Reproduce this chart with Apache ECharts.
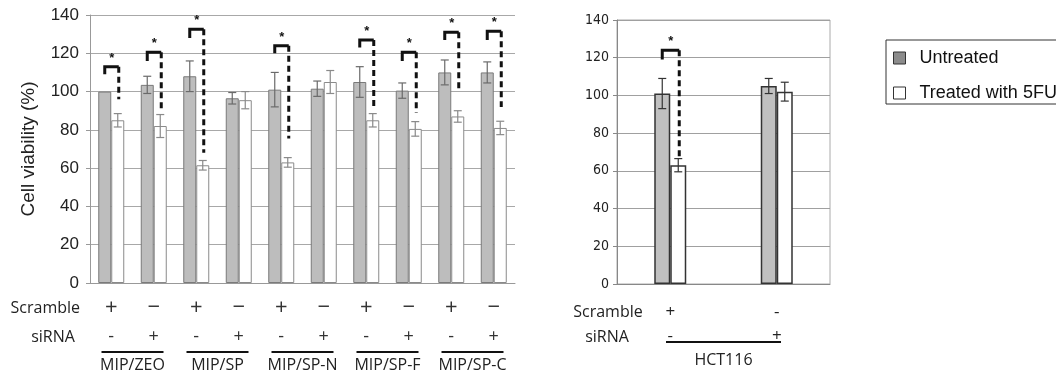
<!DOCTYPE html>
<html>
<head>
<meta charset="utf-8">
<script src="https://cdn.jsdelivr.net/npm/echarts@6/dist/echarts.min.js"></script>
<style>
  html, body { margin: 0; background: #fff; }
  #chart { width: 1056px; height: 377px; }
</style>
</head>
<body>
<div id="chart"></div>
<script>
// left panel: 5 cell lines x 2 conditions (scramble / siRNA)
const groupsLeft = ['MIP/ZEO', 'MIP/SP', 'MIP/SP-N', 'MIP/SP-F', 'MIP/SP-C'];
const scrambleLeft = ['+', '−', '+', '−', '+', '−', '+', '−', '+', '−'];
const sirnaLeft = ['-', '+', '-', '+', '-', '+', '-', '+', '-', '+'];
const untreatedLeft = [100, 103.5, 108, 96.5, 101, 101.5, 105, 100.5, 110, 110];
const untreatedLeftErr = [0, 4.5, 8, 3, 9, 4, 8, 4, 6.5, 5.5];
const treatedLeft = [85, 82, 61.5, 95.5, 63, 105, 85, 80.5, 87, 81];
const treatedLeftErr = [3.5, 6, 2.5, 4.5, 2.5, 6, 3.5, 3.8, 3, 3.5];
// significance brackets: [category index, bracket top, left leg end, dashed leg end]
const bracketsLeft = [
  [0, 113, 109, 96],
  [1, 120.5, 116, 90.5],
  [2, 132.5, 128, 68],
  [4, 124, 120, 75.5],
  [6, 127, 123, 90.5],
  [7, 120.5, 116, 89],
  [8, 131, 127, 100],
  [9, 131.5, 127, 92]
];

// right panel: HCT116
const groupsRight = ['HCT116'];
const scrambleRight = ['+', '-'];
const sirnaRight = ['-', '+'];
const untreatedRight = [101, 105];
const untreatedRightErr = [8, 4];
const treatedRight = [63, 102];
const treatedRightErr = [3.5, 5];
const bracketsRight = [[0, 124, 119, 67]];

const yMin = 0, yMax = 140, yStep = 20;

const BW_L = 13, BW_R = 16;
const chart = echarts.init(document.getElementById('chart'));

function errorSeries(xi, yi, vals, errs, side, bw, color, cap) {
  return {
    type: 'custom', xAxisIndex: xi, yAxisIndex: yi, z: 5, silent: true, clip: false,
    data: vals.map((v, i) => [i, v, errs[i]]),
    renderItem(params, api) {
      const i = api.value(0), v = api.value(1), e = api.value(2);
      if (!e) return;
      const hi = api.coord([i, v + e]), lo = api.coord([i, v - e]);
      const x = hi[0] + side * bw / 2;
      const st = { stroke: color, lineWidth: 1.2 };
      return {
        type: 'group', children: [
          { type: 'line', shape: { x1: x, y1: hi[1], x2: x, y2: lo[1] }, style: st },
          { type: 'line', shape: { x1: x - cap, y1: hi[1], x2: x + cap, y2: hi[1] }, style: st },
          { type: 'line', shape: { x1: x - cap, y1: lo[1], x2: x + cap, y2: lo[1] }, style: st }
        ]
      };
    }
  };
}

function bracketSeries(xi, yi, data, bw) {
  return {
    type: 'custom', xAxisIndex: xi, yAxisIndex: yi, z: 6, silent: true, clip: false,
    data: data,
    renderItem(params, api) {
      const i = api.value(0);
      const t = api.coord([i, api.value(1)]);
      const l = api.coord([i, api.value(2)]);
      const r = api.coord([i, api.value(3)]);
      const xL = t[0] - bw / 2, xR = t[0] + bw / 2 + 1;
      return {
        type: 'group', children: [
          { type: 'polyline', shape: { points: [[xL, l[1]], [xL, t[1]], [xR, t[1]]] },
            style: { stroke: '#111', lineWidth: 3, fill: null } },
          { type: 'line', shape: { x1: xR, y1: t[1], x2: xR, y2: r[1] },
            style: { stroke: '#111', lineWidth: 3, lineDash: [6, 4] } },
          { type: 'text', x: (xL + xR) / 2, y: t[1] - 2,
            style: { text: '*', fill: '#111', font: 'bold 13px "Liberation Sans"', align: 'center', verticalAlign: 'bottom' } }
        ]
      };
    }
  };
}

function underlineSeries(xi, yi, groups, w, dy) {
  return {
    type: 'custom', xAxisIndex: xi, yAxisIndex: yi, z: 6, silent: true, clip: false,
    data: groups.map((g, k) => [k, 0]),
    renderItem(params, api) {
      const c = api.coord([api.value(0), 0]);
      return { type: 'line', shape: { x1: c[0] - w / 2, y1: c[1] + dy, x2: c[0] + w / 2, y2: c[1] + dy },
        style: { stroke: '#111', lineWidth: 2 } };
    }
  };
}

const signFont = { fontFamily: '"Open Sans"', color: '#222' };

chart.setOption({
  animation: false,
  backgroundColor: '#fff',
  grid: [
    { left: 90, top: 15, width: 425, height: 268 },
    { left: 617, top: 20, width: 213, height: 264, show: true, borderColor: '#aaa', borderWidth: 1, backgroundColor: 'transparent' }
  ],
  legend: {
    orient: 'vertical', left: 886, top: 40,
    padding: [9, 60, 2, 7], itemGap: 17, itemWidth: 12, itemHeight: 12,
    borderColor: '#333', borderWidth: 1,
    textStyle: { fontFamily: '"Liberation Sans"', fontSize: 18, color: '#111', padding: [0, 0, 0, 9] },
    data: [
      { name: 'Untreated', icon: 'rect', itemStyle: { color: '#8c8c8c', borderColor: '#333', borderWidth: 1 } },
      { name: 'Treated with 5FU', icon: 'rect', itemStyle: { color: '#fff', borderColor: '#333', borderWidth: 1 } }
    ]
  },
  graphic: [
    { type: 'text', x: 80, y: 308, style: { text: 'Scramble', font: '16px "Open Sans"', fill: '#222', align: 'right', verticalAlign: 'middle' } },
    { type: 'text', x: 53, y: 337, style: { text: 'siRNA', font: '16px "Open Sans"', fill: '#222', align: 'center', verticalAlign: 'middle' } },
    { type: 'text', x: 608, y: 312, style: { text: 'Scramble', font: '16px "Open Sans"', fill: '#222', align: 'center', verticalAlign: 'middle' } },
    { type: 'text', x: 607, y: 337, style: { text: 'siRNA', font: '16px "Open Sans"', fill: '#222', align: 'center', verticalAlign: 'middle' } }
  ],
  xAxis: [
    {
      type: 'category', gridIndex: 0, data: scrambleLeft.map((s, i) => String(i)),
      axisLine: { lineStyle: { color: '#999' } }, axisTick: { show: false },
      axisLabel: {
        interval: 0, margin: 10, ...signFont,
        formatter: (v, i) => '{a|' + scrambleLeft[i] + '}\n{b|' + sirnaLeft[i] + '}',
        rich: {
          a: { fontFamily: '"Open Sans"', fontSize: 22, lineHeight: 29, color: '#333' },
          b: { fontFamily: '"Open Sans"', fontSize: 18, lineHeight: 29, color: '#333' }
        }
      }
    },
    {
      type: 'category', gridIndex: 0, position: 'bottom', offset: 0, data: groupsLeft,
      axisLine: { show: false }, axisTick: { show: false },
      axisLabel: { interval: 0, margin: 74, fontSize: 16, ...signFont }
    },
    {
      type: 'category', gridIndex: 1, data: scrambleRight.map((s, i) => String(i)),
      axisLine: { lineStyle: { color: '#888' } }, axisTick: { show: false },
      axisLabel: {
        interval: 0, margin: 16, lineHeight: 24, fontSize: 17, ...signFont,
        formatter: (v, i) => scrambleRight[i] + '\n' + sirnaRight[i]
      }
    },
    {
      type: 'category', gridIndex: 1, position: 'bottom', offset: 0, data: groupsRight,
      axisLine: { show: false }, axisTick: { show: false },
      axisLabel: { interval: 0, margin: 68, fontSize: 16, ...signFont }
    }
  ],
  yAxis: [
    {
      type: 'value', gridIndex: 0, min: yMin, max: yMax, interval: yStep,
      name: 'Cell viability (%)', nameLocation: 'middle', nameGap: 52,
      nameTextStyle: { fontFamily: '"Liberation Sans"', fontSize: 19, color: '#222' },
      axisLine: { show: true, lineStyle: { color: '#999' } },
      axisTick: { show: true, length: 4, lineStyle: { color: '#999' } },
      axisLabel: { fontFamily: '"Liberation Sans"', fontSize: 17, color: '#222', margin: 11 },
      splitLine: { lineStyle: { color: '#a8a8a8' } }
    },
    {
      type: 'value', gridIndex: 1, min: yMin, max: yMax, interval: yStep,
      axisLine: { show: true, lineStyle: { color: '#888' } },
      axisTick: { show: true, length: 4, lineStyle: { color: '#888' } },
      axisLabel: { fontFamily: '"Liberation Sans Narrow", "DejaVu Sans Condensed"', fontSize: 14, color: '#222', margin: 8 },
      splitLine: { lineStyle: { color: '#a0a0a0' } }
    }
  ],
  series: [
    { name: 'Untreated', type: 'bar', xAxisIndex: 0, yAxisIndex: 0, data: untreatedLeft,
      barWidth: BW_L, barGap: '0%', itemStyle: { color: '#bdbdbd', borderColor: '#7a7a7a', borderWidth: 1 } },
    { name: 'Treated with 5FU', type: 'bar', xAxisIndex: 0, yAxisIndex: 0, data: treatedLeft,
      barWidth: BW_L, barGap: '0%', itemStyle: { color: '#fff', borderColor: '#8a8a8a', borderWidth: 1 } },
    { name: 'Untreated', type: 'bar', xAxisIndex: 2, yAxisIndex: 1, data: untreatedRight,
      barWidth: BW_R, barGap: '0%', itemStyle: { color: '#c0c0c0', borderColor: '#333', borderWidth: 1.5 } },
    { name: 'Treated with 5FU', type: 'bar', xAxisIndex: 2, yAxisIndex: 1, data: treatedRight,
      barWidth: BW_R, barGap: '0%', itemStyle: { color: '#fff', borderColor: '#333', borderWidth: 1.5 } },
    errorSeries(0, 0, untreatedLeft, untreatedLeftErr, -1, BW_L, '#6a6a6a', 4),
    errorSeries(0, 0, treatedLeft, treatedLeftErr, 1, BW_L, '#8a8a8a', 4),
    errorSeries(2, 1, untreatedRight, untreatedRightErr, -1, BW_R, '#333', 4),
    errorSeries(2, 1, treatedRight, treatedRightErr, 1, BW_R, '#333', 4),
    bracketSeries(0, 0, bracketsLeft, BW_L),
    bracketSeries(2, 1, bracketsRight, BW_R),
    underlineSeries(1, 0, groupsLeft, 62, 69),
    underlineSeries(3, 1, groupsRight, 115, 58)
  ]
});
</script>
</body>
</html>
